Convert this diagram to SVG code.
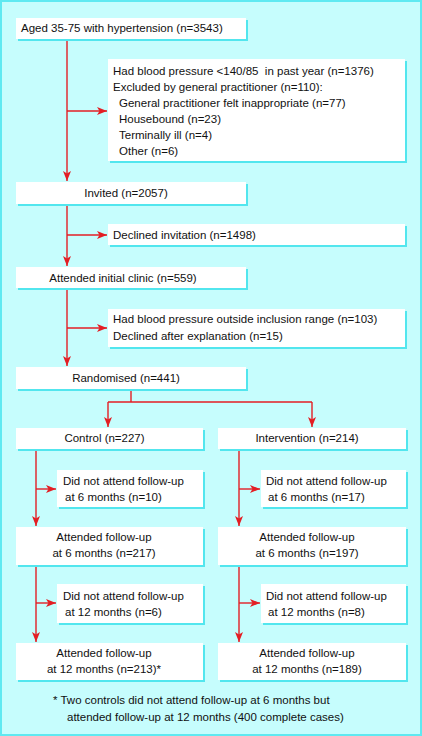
<svg xmlns="http://www.w3.org/2000/svg" width="422" height="736" viewBox="0 0 422 736">
<defs>
<style>
.bg{fill:#c6fdfd;stroke:#5fe9f1;stroke-width:2}
.sh{fill:#52e6ee}
.bx{fill:#ffffff}
text{font-family:"Liberation Sans",Arial,Helvetica,sans-serif;font-size:11.5px;fill:#111}
.m{text-anchor:middle}
.ln{fill:none;stroke:#e31e24;stroke-width:1.4}
</style>
<marker id="ah" markerUnits="userSpaceOnUse" markerWidth="10" markerHeight="8" refX="10" refY="4" orient="auto">
<path d="M0,0 L10,4 L0,8 L2.5,4 z" fill="#e31e24"/>
</marker>
</defs>
<rect class="bg" x="1" y="1" width="420" height="734"/>
<g id="connectors">
<path class="ln" d="M67,39 V181" marker-end="url(#ah)"/>
<path class="ln" d="M67,111 H107" marker-end="url(#ah)"/>
<path class="ln" d="M67,204 V266" marker-end="url(#ah)"/>
<path class="ln" d="M67,235 H107" marker-end="url(#ah)"/>
<path class="ln" d="M67,288 V366" marker-end="url(#ah)"/>
<path class="ln" d="M67,328 H107" marker-end="url(#ah)"/>
<path class="ln" d="M131,389 V402 M108,402 H312"/>
<path class="ln" d="M108,402 V427" marker-end="url(#ah)"/>
<path class="ln" d="M312,402 V427" marker-end="url(#ah)"/>
<path class="ln" d="M36,449 V526" marker-end="url(#ah)"/>
<path class="ln" d="M36,489 H56" marker-end="url(#ah)"/>
<path class="ln" d="M239,449 V526" marker-end="url(#ah)"/>
<path class="ln" d="M239,489 H260" marker-end="url(#ah)"/>
<path class="ln" d="M36,565 V642" marker-end="url(#ah)"/>
<path class="ln" d="M36,603 H56" marker-end="url(#ah)"/>
<path class="ln" d="M239,565 V642" marker-end="url(#ah)"/>
<path class="ln" d="M239,603 H260" marker-end="url(#ah)"/>
</g>
<g id="n1">
<rect class="sh" x="18" y="20" width="230" height="21"/>
<rect class="bx" x="16" y="18" width="230" height="21"/>
<text x="21" y="32">Aged 35-75 with hypertension (n=3543)</text>
</g>
<g id="n2">
<rect class="sh" x="110" y="61" width="297" height="102"/>
<rect class="bx" x="108" y="59" width="297" height="102"/>
<text x="113" y="74.5" xml:space="preserve">Had blood pressure &lt;140/85  in past year (n=1376)</text>
<text x="113" y="90.5">Excluded by general practitioner (n=110):</text>
<text x="119" y="106.5">General practitioner felt inappropriate (n=77)</text>
<text x="119" y="122.5">Housebound (n=23)</text>
<text x="119" y="138.5">Terminally ill (n=4)</text>
<text x="119" y="154.5">Other (n=6)</text>
</g>
<g id="n3">
<rect class="sh" x="18" y="184" width="230" height="22"/>
<rect class="bx" x="16" y="182" width="230" height="22"/>
<text class="m" x="126" y="197">Invited (n=2057)</text>
</g>
<g id="n4">
<rect class="sh" x="110" y="226" width="297" height="21"/>
<rect class="bx" x="108" y="224" width="297" height="21"/>
<text x="113" y="239">Declined invitation (n=1498)</text>
</g>
<g id="n5">
<rect class="sh" x="18" y="269" width="230" height="21"/>
<rect class="bx" x="16" y="267" width="230" height="21"/>
<text class="m" x="123" y="281.5">Attended initial clinic (n=559)</text>
</g>
<g id="n6">
<rect class="sh" x="110" y="311" width="297" height="38"/>
<rect class="bx" x="108" y="309" width="297" height="38"/>
<text x="113" y="323">Had blood pressure outside inclusion range (n=103)</text>
<text x="113" y="340">Declined after explanation (n=15)</text>
</g>
<g id="n7">
<rect class="sh" x="18" y="369" width="230" height="22"/>
<rect class="bx" x="16" y="367" width="230" height="22"/>
<text class="m" x="126" y="381.5">Randomised (n=441)</text>
</g>
<g id="n8">
<rect class="sh" x="18" y="430" width="187" height="21"/>
<rect class="bx" x="16" y="428" width="187" height="21"/>
<text class="m" x="104.5" y="441.5">Control (n=227)</text>
</g>
<g id="n9">
<rect class="sh" x="220" y="430" width="188" height="21"/>
<rect class="bx" x="218" y="428" width="188" height="21"/>
<text class="m" x="307" y="441.5">Intervention (n=214)</text>
</g>
<g id="n10">
<rect class="sh" x="59" y="472" width="146" height="37"/>
<rect class="bx" x="57" y="470" width="146" height="37"/>
<text x="63" y="485">Did not attend follow-up</text>
<text x="65" y="501">at 6 months (n=10)</text>
</g>
<g id="n11">
<rect class="sh" x="263" y="472" width="145" height="37"/>
<rect class="bx" x="261" y="470" width="145" height="37"/>
<text x="266" y="485">Did not attend follow-up</text>
<text x="268" y="501">at 6 months (n=17)</text>
</g>
<g id="n12">
<rect class="sh" x="18" y="529" width="187" height="38"/>
<rect class="bx" x="16" y="527" width="187" height="38"/>
<text class="m" x="104" y="541">Attended follow-up</text>
<text class="m" x="104" y="557">at 6 months (n=217)</text>
</g>
<g id="n13">
<rect class="sh" x="220" y="529" width="188" height="38"/>
<rect class="bx" x="218" y="527" width="188" height="38"/>
<text class="m" x="307" y="541">Attended follow-up</text>
<text class="m" x="307" y="557">at 6 months (n=197)</text>
</g>
<g id="n14">
<rect class="sh" x="59" y="586" width="146" height="39"/>
<rect class="bx" x="57" y="584" width="146" height="39"/>
<text x="63" y="600">Did not attend follow-up</text>
<text x="65" y="616">at 12 months (n=6)</text>
</g>
<g id="n15">
<rect class="sh" x="263" y="586" width="145" height="39"/>
<rect class="bx" x="261" y="584" width="145" height="39"/>
<text x="266" y="600">Did not attend follow-up</text>
<text x="268" y="616">at 12 months (n=8)</text>
</g>
<g id="n16">
<rect class="sh" x="18" y="645" width="187" height="37"/>
<rect class="bx" x="16" y="643" width="187" height="37"/>
<text class="m" x="104" y="657">Attended follow-up</text>
<text class="m" x="104" y="673">at 12 months (n=213)*</text>
</g>
<g id="n17">
<rect class="sh" x="220" y="645" width="188" height="37"/>
<rect class="bx" x="218" y="643" width="188" height="37"/>
<text class="m" x="307" y="657">Attended follow-up</text>
<text class="m" x="307" y="673">at 12 months (n=189)</text>
</g>
<g id="note">
<text x="53" y="704">* Two controls did not attend follow-up at 6 months but</text>
<text x="67" y="721">attended follow-up at 12 months (400 complete cases)</text>
</g>
</svg>
